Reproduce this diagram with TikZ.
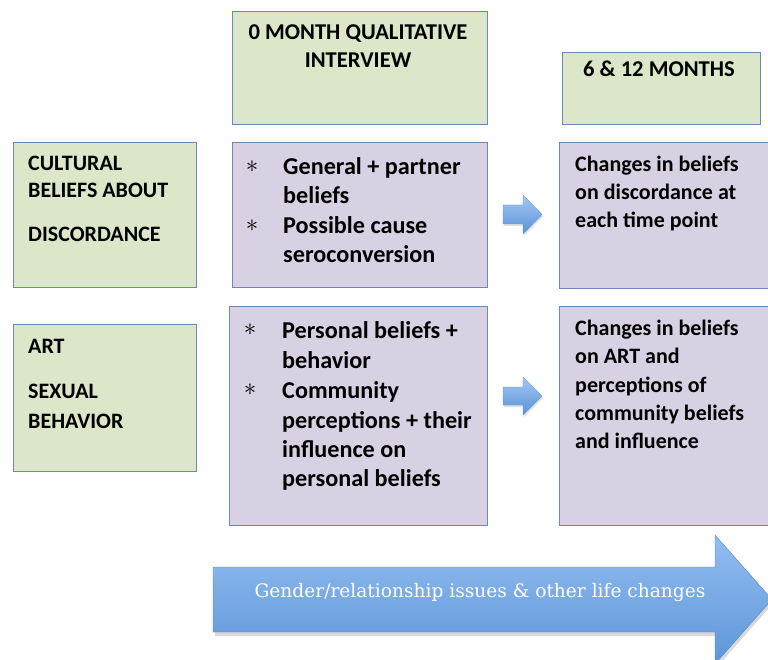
\documentclass[tikz,border=0pt]{standalone}
\usepackage{fontspec}
\setmainfont{Carlito}
\newfontfamily\arrowfont{DejaVu Serif}
\definecolor{boxline}{HTML}{6A8AB5}
\definecolor{greenfill}{HTML}{DCE6C8}
\definecolor{purplefill}{HTML}{D8D1E3}
\definecolor{arrowtop}{HTML}{A3C8F3}
\definecolor{arrowbot}{HTML}{5A92D8}
\definecolor{bigtop}{HTML}{93BDF0}
\definecolor{bigbot}{HTML}{5D96D9}
\tikzset{
  boxbase/.style={draw=boxline, line width=1.3pt, inner sep=0pt, anchor=north west},
  greenbox/.style={boxbase, fill=greenfill},
  purplebox/.style={boxbase, fill=purplefill},
  txt/.style={anchor=base west, inner sep=0pt, font=\bfseries\fontsize{22}{26}\selectfont},
  bigtxt/.style={txt, font=\bfseries\fontsize{24.2}{28}\selectfont},
  ctxt/.style={txt, anchor=base, font=\bfseries\fontsize{22.6}{26}\selectfont},
  starmark/.style={inner sep=0pt, font=\fontsize{23}{26}\selectfont},
  smallarrow/.style={top color=arrowtop, bottom color=arrowbot, draw=arrowbot, line width=0.3pt},
  arrowshadow/.style={fill=black, opacity=0.12},
}
\begin{document}
\begin{tikzpicture}[x=1pt,y=-1pt]
\useasboundingbox (0,0) rectangle (768,660);
\clip (0,0) rectangle (768,660);
\fill[white] (0,0) rectangle (768,660);

% header boxes
\node[greenbox, minimum width=255pt, minimum height=113pt] (t0) at (232,11) {};
\node[ctxt] (t0a) at (358,40) {0 MONTH QUALITATIVE};
\node[ctxt] (t0b) at (358,68) {INTERVIEW};
\node[greenbox, minimum width=198pt, minimum height=72pt] (t12) at (562,52) {};
\node[ctxt] (t12a) at (659,77) {6 \& 12 MONTHS};

% row 1
\node[greenbox, minimum width=183pt, minimum height=145pt] (l1) at (13,142) {};
\node[txt] (l1a) at (28,171) {CULTURAL};
\node[txt] (l1b) at (28,198) {BELIEFS ABOUT};
\node[txt] (l1c) at (28,242) {DISCORDANCE};

\node[purplebox, minimum width=255pt, minimum height=145pt] (m1) at (232,142) {};
\node[starmark] (m1s1) at (252,167) {$\ast$};
\node[starmark] (m1s2) at (252,226) {$\ast$};
\node[bigtxt] (m1a) at (283,175) {General + partner};
\node[bigtxt] (m1b) at (283,204) {beliefs};
\node[bigtxt] (m1c) at (283,234) {Possible cause};
\node[bigtxt] (m1d) at (283,263) {seroconversion};

\node[purplebox, minimum width=230pt, minimum height=146pt] (r1) at (559,142) {};
\node[txt] (r1a) at (575,172) {Changes in beliefs};
\node[txt] (r1b) at (575,200) {on discordance at};
\node[txt] (r1c) at (575,228) {each time point};

% row 2
\node[greenbox, minimum width=183pt, minimum height=147pt] (l2) at (13,324) {};
\node[txt] (l2a) at (28,353) {ART};
\node[txt] (l2b) at (28,398) {SEXUAL};
\node[txt] (l2c) at (28,428) {BEHAVIOR};

\node[purplebox, minimum width=258pt, minimum height=219pt] (m2) at (229,306) {};
\node[starmark] (m2s1) at (250,330) {$\ast$};
\node[starmark] (m2s2) at (250,390) {$\ast$};
\node[bigtxt] (m2a) at (282,338) {Personal beliefs +};
\node[bigtxt] (m2b) at (282,368) {behavior};
\node[bigtxt] (m2c) at (282,398) {Community};
\node[bigtxt] (m2d) at (282,428) {perceptions + their};
\node[bigtxt] (m2e) at (282,457) {influence on};
\node[bigtxt] (m2f) at (282,486) {personal beliefs};

\node[purplebox, minimum width=230pt, minimum height=219pt] (r2) at (559,306) {};
\node[txt] (r2a) at (575,335) {Changes in beliefs};
\node[txt] (r2b) at (575,363) {on ART and};
\node[txt] (r2c) at (575,392) {perceptions of};
\node[txt] (r2d) at (575,420) {community beliefs};
\node[txt] (r2e) at (575,448) {and influence};

% small arrows
\fill[arrowshadow] (504,207) -- (524,207) -- (524,197) -- (543,216.5) -- (524,236) -- (524,226) -- (504,226) -- cycle;
\path[smallarrow] (503,205) -- (523,205) -- (523,195) -- (542,214.5) -- (523,234) -- (523,224) -- (503,224) -- cycle;
\fill[arrowshadow] (504,389) -- (524,389) -- (524,379) -- (543,398) -- (524,417) -- (524,407) -- (504,407) -- cycle;
\path[smallarrow] (503,387) -- (523,387) -- (523,377) -- (542,396) -- (523,415) -- (523,405) -- (503,405) -- cycle;

% big arrow
\fill[black, opacity=0.15] (215,570) -- (717,570) -- (717,538) -- (774,602.5) -- (717,667) -- (717,636) -- (215,636) -- cycle;
\path[top color=bigtop, bottom color=bigbot, draw=bigbot!90!black, line width=0.4pt]
  (213,567) -- (715,567) -- (715,535) -- (772,599.5) -- (715,664) -- (715,632) -- (213,632) -- cycle;
\node[text=white, inner sep=0pt, font=\arrowfont\fontsize{18.6}{23}\selectfont] (gl) at (480,592) {Gender/relationship issues \& other life changes};
\end{tikzpicture}
\end{document}
